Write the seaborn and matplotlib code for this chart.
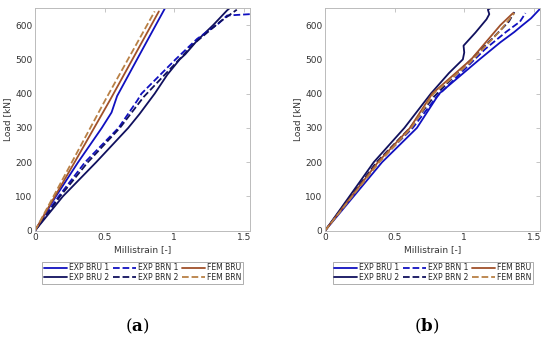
"""
Load vs millistrain curves, panels (a) and (b): EXP BRU/BRN tests vs FEM.
"""
import matplotlib

matplotlib.use("Agg")
import matplotlib.pyplot as plt
import pandas as pd
import seaborn as sns

# panel (a) -- (strain, load) pairs
a_bru1_x = [0, 0.15, 0.31, 0.48, 0.55, 0.59, 0.76, 0.935]
a_bru1_y = [0, 100, 200, 300, 345, 393, 520, 650]
a_bru2_x = [0, 0.20, 0.44, 0.67, 0.75, 0.86, 0.95, 1.04, 1.08, 1.165, 1.28, 1.38, 1.40]
a_bru2_y = [0, 100, 200, 300, 340, 400, 455, 500, 515, 555, 600, 643, 650]
a_brn1_x = [0, 0.17, 0.36, 0.60, 0.735, 0.765, 1.01, 1.165, 1.32, 1.38, 1.545]
a_brn1_y = [0, 100, 200, 300, 380, 400, 500, 560, 605, 628, 632]
a_brn2_x = [0, 0.18, 0.38, 0.61, 0.78, 0.99, 1.14, 1.33, 1.45]
a_brn2_y = [0, 100, 200, 300, 390, 480, 545, 610, 645]
a_fem_bru_x = [0, 0.285, 0.54, 0.89]
a_fem_bru_y = [0, 200, 382, 640]
a_fem_brn_x = [0, 0.265, 0.51, 0.86]
a_fem_brn_y = [0, 200, 385, 640]

# panel (b)
b_bru1_x = [0, 0.41, 0.66, 0.82, 1.11, 1.26, 1.36, 1.41, 1.48, 1.55]
b_bru1_y = [0, 200, 300, 400, 500, 550, 580, 597, 620, 650]
b_bru2_x = [0, 0.35, 0.57, 0.76, 0.89, 0.99, 1.00, 0.995, 1.08, 1.16, 1.18, 1.17, 1.19]
b_bru2_y = [0, 200, 300, 400, 460, 500, 520, 540, 578, 617, 632, 645, 650]
b_brn1_x = [0, 0.38, 0.63, 0.80, 1.00, 1.15, 1.30, 1.40, 1.44]
b_brn1_y = [0, 200, 300, 390, 470, 530, 580, 610, 635]
b_brn2_x = [0, 0.37, 0.61, 0.78, 1.00, 1.20, 1.32, 1.36]
b_brn2_y = [0, 200, 300, 390, 480, 560, 610, 638]
b_fem_bru_x = [0, 0.38, 0.61, 0.77, 1.05, 1.26, 1.35]
b_fem_bru_y = [0, 200, 300, 400, 500, 600, 635]
b_fem_brn_x = [0, 0.39, 0.62, 0.78, 1.04, 1.25, 1.33, 1.36]
b_fem_brn_y = [0, 200, 300, 400, 490, 580, 620, 635]

labels = ["EXP BRU 1", "EXP BRU 2", "EXP BRN 1", "EXP BRN 2", "FEM BRU", "FEM BRN"]
colors = ["#1010c0", "#10105e", "#1010c0", "#10105e", "#a0502a", "#b98045"]
dashes = ["-", "-", "--", "--", "-", "--"]

panels = [
    ("a", [(a_bru1_x, a_bru1_y), (a_bru2_x, a_bru2_y), (a_brn1_x, a_brn1_y),
           (a_brn2_x, a_brn2_y), (a_fem_bru_x, a_fem_bru_y), (a_fem_brn_x, a_fem_brn_y)]),
    ("b", [(b_bru1_x, b_bru1_y), (b_bru2_x, b_bru2_y), (b_brn1_x, b_brn1_y),
           (b_brn2_x, b_brn2_y), (b_fem_bru_x, b_fem_bru_y), (b_fem_brn_x, b_fem_brn_y)]),
]

sns.set_style("white")
plt.rcParams["font.family"] = ["DejaVu Sans"]
plt.rcParams["mathtext.fontset"] = "dejavuserif"

fig = plt.figure(figsize=(5.5, 3.4), dpi=100)
lefts = [0.0636, 0.591]

for left, (tag, series) in zip(lefts, panels):
    ax = fig.add_axes([left, 0.3215, 0.391, 0.655])
    for (xs, ys), lab, col, ls in zip(series, labels, colors, dashes):
        df = pd.DataFrame({"strain": xs, "load": ys})
        sns.lineplot(data=df, x="strain", y="load", sort=False, color=col,
                     linestyle=ls, linewidth=1.3, label=lab, ax=ax, legend=False)
    ax.set_xlim(0, 1.545)
    ax.set_ylim(0, 650)
    ax.set_xticks([0, 0.5, 1, 1.5])
    ax.set_xticklabels(["0", "0.5", "1", "1.5"])
    ax.set_yticks(range(0, 601, 100))
    ax.tick_params(direction="in", top=True, right=True, length=3, width=0.6,
                   labelsize=6.5, colors="#bbbbbb", labelcolor="#333333", pad=2)
    for sp in ax.spines.values():
        sp.set_color("#bbbbbb")
        sp.set_linewidth(0.7)
    ax.set_xlabel("Millistrain [-]", fontsize=6.5, color="#333333", labelpad=2)
    ax.set_ylabel("Load [kN]", fontsize=6.5, color="#333333", labelpad=2)
    handles, labs = ax.get_legend_handles_labels()
    leg = ax.legend(handles, labs, ncol=3, loc="upper center", bbox_to_anchor=(0.5, -0.14),
                    fontsize=5.5, frameon=True, fancybox=False, edgecolor="#999999",
                    handlelength=3.0, handletextpad=0.25, columnspacing=0.5,
                    labelspacing=0.1, borderpad=0.2, borderaxespad=0)
    leg.get_frame().set_linewidth(0.7)
    fig.text(left + 0.185, 0.04, "($\\mathbf{%s}$)" % tag, fontsize=12, family="DejaVu Serif",
             ha="center", va="center", color="black")

fig.savefig("out.png", dpi=100)
plt.close(fig)
